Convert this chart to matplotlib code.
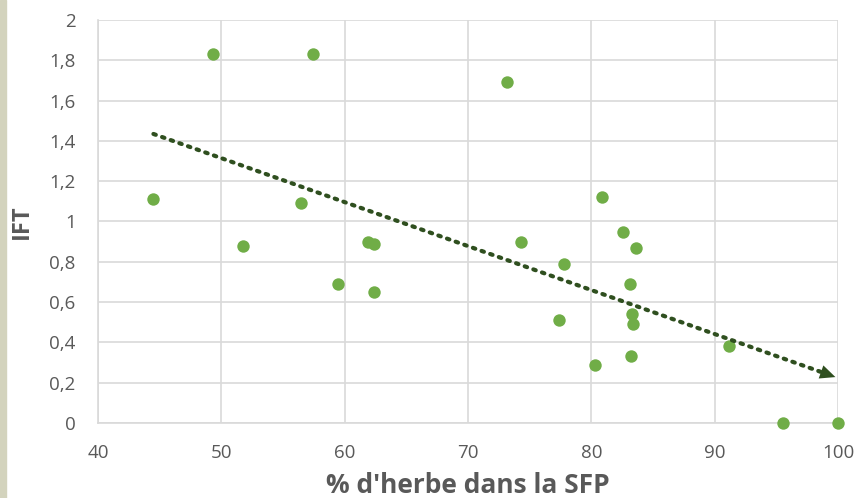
import numpy as np
import matplotlib.pyplot as plt
from matplotlib.ticker import FuncFormatter, MultipleLocator
from matplotlib.patches import Rectangle

# % d'herbe dans la SFP vs IFT
herbe = [44.5, 49.3, 57.4, 73.2, 51.8, 56.5, 59.5, 61.9, 62.4, 62.4, 74.3, 77.8,
         77.4, 80.3, 80.9, 82.6, 83.6, 83.1, 83.3, 83.4, 83.2, 91.2, 95.5, 100.0]
ift = [1.11, 1.83, 1.83, 1.69, 0.88, 1.09, 0.69, 0.90, 0.89, 0.65, 0.90, 0.79,
       0.51, 0.29, 1.12, 0.95, 0.87, 0.69, 0.54, 0.49, 0.33, 0.38, 0.0, 0.0]

plt.rcParams['font.family'] = ['Open Sans', 'DejaVu Sans']

fig = plt.figure(figsize=(8.59, 4.98), dpi=100)
ax = fig.add_axes([0.114, 0.1506, 0.8616, 0.8094])

# left border strip
fig.patches.append(Rectangle((0, 0), 6 / 859, 1, transform=fig.transFigure,
                             color="#d3d3bd", zorder=0))

ax.scatter(herbe, ift, s=80, color="#70ad47", zorder=3, linewidths=0, clip_on=False)

# linear trend line
a, b = np.polyfit(herbe, ift, 1)
x0, x1 = min(herbe), max(herbe)
xs = np.array([x0, x1 - 1.3])
ax.plot(xs, a * xs + b, color="#2f4f1f", linestyle=(0, (0.6, 1.6)),
        linewidth=3, dash_capstyle="round", zorder=4)
ax.annotate("", xy=(x1, a * x1 + b), xytext=(x1 - 1.6, a * (x1 - 1.6) + b),
            arrowprops=dict(arrowstyle="-|>,head_length=1.1,head_width=0.5",
                            color="#2f4f1f", lw=0), zorder=5)

ax.set_xlim(40, 100)
ax.set_ylim(0, 2)
ax.xaxis.set_major_locator(MultipleLocator(10))
ax.yaxis.set_major_locator(MultipleLocator(0.2))
ax.yaxis.set_major_formatter(FuncFormatter(lambda v, p: f"{v:.1f}".replace(".", ",").replace(",0", "")))

ax.grid(True, color="#d9d9d9", linewidth=1.2, zorder=0)
ax.set_axisbelow(True)
for s in ["top", "right"]:
    ax.spines[s].set_visible(False)
for s in ["left", "bottom"]:
    ax.spines[s].set_color("#d9d9d9")
    ax.spines[s].set_linewidth(1.2)

ax.tick_params(length=0, labelsize=13.5, colors="#595959")
ax.tick_params(axis="y", pad=16)
ax.tick_params(axis="x", pad=15)

ax.set_xlabel("% d'herbe dans la SFP", fontsize=19, fontweight="bold", color="#595959", labelpad=7)
ax.set_ylabel("IFT", fontsize=17, fontweight="bold", color="#595959", labelpad=11)

fig.savefig("out.png", dpi=100)
